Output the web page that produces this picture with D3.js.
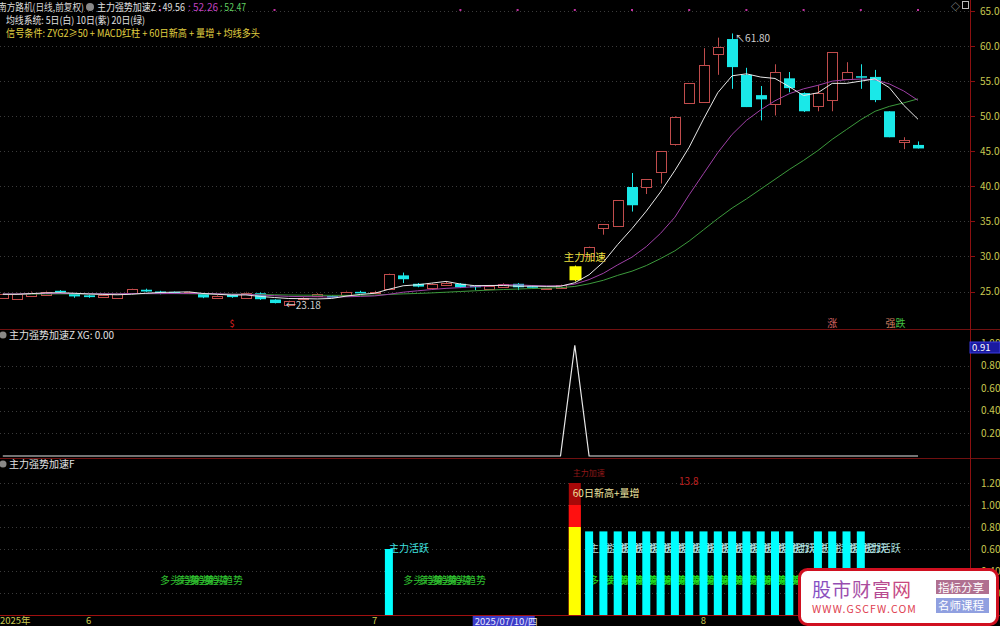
<!DOCTYPE html>
<html><head><meta charset="utf-8">
<script src="https://cdn.jsdelivr.net/npm/d3@7"></script>
<style>
html,body{margin:0;padding:0;background:#000;overflow:hidden;}
svg{display:block;}
text{font-family:"Noto Sans CJK SC","Noto Sans",sans-serif;}
</style></head><body>
<svg id="c" width="1000" height="626"></svg>
<script>
// ---------------- DATA ----------------
const open  = [24.2,24.0,24.45,24.6,25.1,24.75,24.45,24.3,24.2,24.7,25.25,25.0,24.95,24.75,24.75,24.15,24.55,24.15,24.75,23.85,23.2,23.9,24.4,24.35,24.6,24.95,24.85,25.3,27.3,26.1,25.6,25.85,26.1,25.85,25.45,25.7,26.1,25.75,25.35,25.5,26.6,30.0,34.0,34.4,39.9,39.9,42.0,46.1,51.9,52.0,58.9,61.0,55.9,53.0,51.7,55.4,53.3,51.4,52.3,55.3,55.7,55.6,50.7,46.3,45.9];
const high  = [24.8,24.8,25.0,25.1,25.2,24.8,24.5,24.6,24.8,25.4,25.4,25.1,25.0,25.0,24.8,24.5,24.6,24.95,24.85,23.9,23.75,24.2,24.75,24.45,25.1,25.1,25.1,27.55,27.7,26.2,26.2,26.4,26.2,25.9,25.9,26.2,26.2,25.8,25.5,26.0,28.7,31.4,34.6,38.1,41.9,41.0,45.0,50.0,54.7,59.7,61.2,61.8,56.9,54.3,57.4,56.3,53.4,54.4,59.1,57.7,57.4,56.6,50.7,47.0,46.4];
const low   = [24.1,23.9,24.4,24.5,24.85,24.1,24.1,24.2,24.1,24.6,24.95,24.6,24.7,24.7,24.05,24.1,24.1,24.1,23.8,23.3,23.18,23.75,24.35,24.2,24.5,24.8,24.7,25.2,26.2,25.6,25.5,25.8,25.5,25.2,25.4,25.6,25.2,25.6,25.3,25.4,26.45,29.9,33.1,34.4,36.4,38.9,40.4,45.8,51.9,52.0,55.9,53.9,51.3,49.4,50.1,53.4,50.6,50.7,50.7,55.3,53.9,52.0,47.0,45.3,45.4];
const close = [24.7,24.7,24.85,25.0,24.9,24.3,24.2,24.55,24.7,25.3,25.0,24.75,24.75,24.95,24.15,24.4,24.2,24.85,23.9,23.35,23.7,24.1,24.65,24.25,25.0,24.9,24.95,27.5,26.75,25.7,26.1,26.15,25.6,25.6,25.85,26.1,25.6,25.65,25.45,25.95,28.6,31.3,34.6,38.1,37.3,41.0,45.0,49.9,54.7,57.3,59.9,57.0,51.3,52.4,56.3,54.0,50.7,53.3,59.1,56.3,55.6,52.3,47.0,46.6,45.4];
const ma5  = [24.6,24.6,24.7,24.8,24.83,24.75,24.65,24.59,24.53,24.61,24.75,24.86,24.9,24.95,24.72,24.6,24.49,24.51,24.3,24.14,24.0,23.98,23.94,24.01,24.34,24.58,24.75,25.32,25.82,25.96,26.2,26.44,26.06,25.83,25.86,25.86,25.75,25.76,25.73,25.75,26.25,27.39,29.2,31.7,33.98,36.46,39.2,42.26,45.58,49.58,53.36,55.76,56.04,55.58,55.38,54.2,52.94,53.34,54.68,54.68,55.0,55.32,54.06,51.56,49.56];
const ma10 = [24.65,24.65,24.7,24.72,24.74,24.7,24.68,24.68,24.66,24.72,24.7,24.7,24.72,24.72,24.7,24.68,24.6,24.6,24.5,24.4,24.3,24.27,24.25,24.2,24.25,24.3,24.37,24.6,24.9,25.1,25.28,25.45,25.55,25.7,25.8,25.95,25.95,25.85,25.8,25.8,26.05,26.7,27.6,28.8,29.9,31.4,33.3,35.6,38.8,41.8,44.8,47.4,49.4,50.9,52.2,53.2,53.9,54.4,55.0,55.2,55.3,55.2,54.6,53.6,52.26];
const ma20 = [24.6,24.62,24.63,24.65,24.66,24.66,24.65,24.65,24.66,24.68,24.7,24.7,24.7,24.68,24.66,24.64,24.62,24.6,24.57,24.53,24.5,24.48,24.47,24.45,24.45,24.46,24.48,24.58,24.66,24.72,24.8,24.9,25.0,25.1,25.2,25.28,25.35,25.42,25.48,25.55,25.72,26.1,26.6,27.3,27.9,28.7,29.7,30.8,32.2,33.8,35.4,36.9,38.2,39.6,41.0,42.4,43.7,45.1,46.7,48.1,49.5,50.7,51.4,51.9,52.47];
const signalIdx = [40];                 // 主力加速 candle
const xgValues = [0,0,0,0,0,0,0,0,0,0,0,0,0,0,0,0,0,0,0,0,0,0,0,0,0,0,0,0,0,0,0,0,0,0,0,0,0,0,0,0,0.98,0,0,0,0,0,0,0,0,0,0,0,0,0,0,0,0,0,0,0,0,0,0,0,0];
const xgAxisLabel = 0.91;
const activeIdx = [27,41,42,43,44,45,46,47,48,49,50,51,52,53,54,55,57,58,59,60];
const activeVal = [0.6,0.76,0.76,0.76,0.76,0.76,0.76,0.76,0.76,0.76,0.76,0.76,0.76,0.76,0.76,0.76,0.76,0.76,0.76,0.76];
const trendIdx = [11,12,13,14,28,29,30,31,41,42,43,44,45,46,47,48,49,50,51,52,53,54,55];
const signalBarLevels = [1.2,1.0,0.8];
const signalBarColors = ["#a80808","#ff1010","#ffff00"];
const priceTicks = [25,30,35,40,45,50,55,60,65];
const xgTicks = [0.2,0.4,0.6,0.8,1.0];
const fTicks = [0.2,0.4,0.6,0.8,1.0,1.2];
const monthLabels = ["2025年","6","7","8"];
const monthIdx = [0,6,26,49];
const topDots = [11,19,32,36,40,44,48,52,56,60,64];

// ---------------- SCALES ----------------
const svg = d3.select("#c");
svg.append("rect").attr("width",1000).attr("height",626).attr("fill","#000");
const x  = d3.scaleLinear().domain([0,64]).range([2.8,918]);
const yP = d3.scaleLinear().domain([25,65]).range([291.5,11]);
const yX = d3.scaleLinear().domain([0,1]).range([456,343]);
const yF = d3.scaleLinear().domain([0,1.2]).range([615,483]);

// ---------------- GRID ----------------
const grid = svg.append("g").attr("stroke","#3a3a3a").attr("stroke-dasharray","1,3");
grid.append("g").selectAll("line").data(priceTicks).join("line").attr("x1",0).attr("x2",970).attr("y1",d=>Math.round(yP(d))+0.5).attr("y2",d=>Math.round(yP(d))+0.5);
grid.append("g").selectAll("line").data(xgTicks.slice(0,4)).join("line").attr("x1",0).attr("x2",970).attr("y1",d=>Math.round(yX(d))+0.5).attr("y2",d=>Math.round(yX(d))+0.5);
grid.append("g").selectAll("line").data(fTicks).join("line").attr("x1",0).attr("x2",970).attr("y1",d=>Math.round(yF(d))+0.5).attr("y2",d=>Math.round(yF(d))+0.5);

// separators
svg.append("line").attr("x1",0).attr("x2",1000).attr("y1",329.5).attr("y2",329.5).attr("stroke","#701010");
svg.append("line").attr("x1",0).attr("x2",1000).attr("y1",458.5).attr("y2",458.5).attr("stroke","#701010");
svg.append("line").attr("x1",0).attr("x2",1000).attr("y1",615.5).attr("y2",615.5).attr("stroke","#a01010");
svg.append("line").attr("x1",970.5).attr("x2",970.5).attr("y1",0).attr("y2",626).attr("stroke","#8b1010");

// ---------------- CANDLES ----------------
const cw = 10;
const candles = d3.range(open.length).map(i=>({i,o:open[i],h:high[i],l:low[i],c:close[i],sig:signalIdx.includes(i)}));
const gC = svg.append("g");
candles.forEach(d=>{
  const cx = Math.round(x(d.i))+0.5;
  const top = yP(Math.max(d.o,d.c)), bot = yP(Math.min(d.o,d.c));
  if (d.sig) {
    gC.append("line").attr("x1",cx).attr("x2",cx).attr("y1",yP(d.h)).attr("y2",yP(d.l)).attr("stroke","#ffff00");
    gC.append("rect").attr("x",cx-6).attr("y",top).attr("width",12).attr("height",Math.max(1,bot-top)).attr("fill","#ffff00");
  } else if (d.c > d.o) {
    const col = "#c04c4c";
    gC.append("line").attr("x1",cx).attr("x2",cx).attr("y1",yP(d.h)).attr("y2",top).attr("stroke",col);
    gC.append("line").attr("x1",cx).attr("x2",cx).attr("y1",bot).attr("y2",yP(d.l)).attr("stroke",col);
    gC.append("rect").attr("x",cx-cw/2).attr("y",Math.round(top)+0.5).attr("width",cw).attr("height",Math.max(1,Math.round(bot-top))).attr("fill","#000").attr("stroke",col);
  } else {
    const col = "#1ae8e8";
    gC.append("line").attr("x1",cx).attr("x2",cx).attr("y1",yP(d.h)).attr("y2",yP(d.l)).attr("stroke",col);
    gC.append("rect").attr("x",cx-cw/2-0.5).attr("y",top).attr("width",cw+1).attr("height",Math.max(1.5,bot-top)).attr("fill",col);
  }
});

// MA lines
const line = d3.line().x((d,i)=>x(i)).y(d=>yP(d));
svg.append("path").datum(ma20).attr("d",line).attr("fill","none").attr("stroke","#3c9a3c").attr("stroke-width",1);
svg.append("path").datum(ma10).attr("d",line).attr("fill","none").attr("stroke","#a040a8").attr("stroke-width",1);
svg.append("path").datum(ma5).attr("d",line).attr("fill","none").attr("stroke","#e8e8e8").attr("stroke-width",1);

// annotations main
svg.append("text").attr("x",x(40)+10).attr("y",261).attr("text-anchor","middle").attr("font-size",10.5).attr("fill","#f0e040").text("主力加速");
svg.append("text").attr("x",x(51)+3).attr("y",42).attr("font-size",10).attr("fill","#d0d0d0").attr("font-family","Liberation Sans").text("↖61.80");
svg.append("text").attr("x",x(20)-3).attr("y",309).attr("font-size",10).attr("fill","#d0d0d0").attr("font-family","Liberation Sans").text("←23.18");
svg.append("text").attr("x",x(16)-2).attr("y",327).attr("font-size",9).attr("fill","#e02020").attr("font-family","Liberation Sans").text("$");
svg.append("text").attr("x",x(58)).attr("y",327).attr("text-anchor","middle").attr("font-size",10).attr("fill","#d06060").text("涨");
svg.append("text").attr("x",x(62)-4).attr("y",327).attr("font-size",10).attr("fill","#d08060").text("强");
svg.append("text").attr("x",x(62)+6).attr("y",327).attr("font-size",10).attr("fill","#40c040").text("跌");
svg.append("g").selectAll("rect").data(topDots).join("rect").attr("x",d=>x(d)-1).attr("y",9).attr("width",2).attr("height",2).attr("fill","#c030a0");

// header texts (fitted to reference widths)
const hdr = svg.append("g").attr("font-size",10);
const hdrItems = [
  {t:"南方路机(日线,前复权)", x:-2, y:11, w:86, c:"#d8d8d8"},
  {t:"主力强势加速Z : 49.56", x:97, y:11, w:88, c:"#e0e0e0"},
  {t:": 52.26", x:188, y:11, w:30, c:"#c040c0"},
  {t:": 52.47", x:220, y:11, w:26, c:"#60d060"},
  {t:"均线系统: 5日(白) 10日(紫) 20日(绿)", x:6, y:24, w:139, c:"#e0e0e0"},
  {t:"信号条件: ZYG2≥50 + MACD红柱 + 60日新高 + 量增 + 均线多头", x:6, y:37, w:254, c:"#e0d040"}
];
hdr.selectAll("text").data(hdrItems).join("text").attr("x",d=>d.x).attr("y",d=>d.y).attr("fill",d=>d.c)
  .attr("textLength",d=>d.w).attr("lengthAdjust","spacingAndGlyphs").text(d=>d.t);
hdr.append("circle").attr("cx",90).attr("cy",7).attr("r",4).attr("fill","#888");
svg.append("text").attr("x",951).attr("y",10).attr("font-size",9).attr("fill","#bbb").text("◇");
svg.append("rect").attr("x",962.5).attr("y",1.5).attr("width",6).attr("height",7).attr("fill","none").attr("stroke","#bbb");

// right axis price
const axisCol = "#c8c850";
const rax = svg.append("g").attr("font-family","Liberation Sans").attr("font-size",10).attr("fill",axisCol);
rax.selectAll("text").data(priceTicks).join("text").attr("x",980).attr("y",d=>yP(d)+3.5).text(d=>d.toFixed(2));
rax.append("g").selectAll("line").data(priceTicks).join("line").attr("x1",971).attr("x2",975).attr("y1",d=>Math.round(yP(d))+0.5).attr("y2",d=>Math.round(yP(d))+0.5).attr("stroke","#8b1010");

// ---------------- PANEL 2 ----------------
svg.append("circle").attr("cx",3).attr("cy",335).attr("r",3.5).attr("fill","#888");
svg.append("text").attr("x",9).attr("y",339).attr("font-size",10).attr("fill","#e0e0e0").text("主力强势加速Z  XG: 0.00");
svg.append("path").datum(xgValues).attr("d",d3.line().x((d,i)=>x(i)).y(d=>yX(d))).attr("fill","none").attr("stroke","#e8e8e8").attr("stroke-width",1.2);
const rax2 = svg.append("g").attr("font-family","Liberation Sans").attr("font-size",10).attr("fill",axisCol);
rax2.selectAll("text").data(xgTicks).join("text").attr("x",981).attr("y",d=>yX(d)+3.5).text(d=>d.toFixed(2));
svg.append("rect").attr("x",970).attr("y",342).attr("width",30).attr("height",11).attr("fill","#1a1aa0").attr("stroke","#3a3ae0");
svg.append("text").attr("x",972).attr("y",351).attr("font-family","Liberation Sans").attr("font-size",9.5).attr("fill","#fff").text(xgAxisLabel.toFixed(2));

// ---------------- PANEL 3 ----------------
svg.append("circle").attr("cx",3).attr("cy",464).attr("r",3.5).attr("fill","#888");
svg.append("text").attr("x",9).attr("y",468).attr("font-size",10).attr("fill","#e0e0e0").text("主力强势加速F");
const rax3 = svg.append("g").attr("font-family","Liberation Sans").attr("font-size",10).attr("fill",axisCol);
rax3.selectAll("text").data(fTicks).join("text").attr("x",981).attr("y",d=>yF(d)+3.5).text(d=>d.toFixed(2));

// labels (behind bars, overlapping as in the original indicator)
svg.append("g").selectAll("text").data(trendIdx).join("text").attr("x",d=>x(d)).attr("y",584).attr("font-size",10).attr("fill",d=>d>40?"#20e020":"#30c030").text("多头趋势");
svg.append("g").selectAll("text").data(activeIdx).join("text").attr("x",d=>x(d)).attr("y",552).attr("font-size",10).attr("fill",(d,i)=>i===0?"#40e0e0":"#b0e0e0").text("主力活跃");

// bars
svg.append("g").selectAll("rect").data(activeIdx).join("rect")
  .attr("x",d=>x(d)-4).attr("width",8)
  .attr("y",(d,i)=>yF(activeVal[i])).attr("height",(d,i)=>yF(0)-yF(activeVal[i])).attr("fill","#00ffff");
svg.append("g").selectAll("rect").data(signalBarLevels).join("rect")
  .attr("x",x(40)-6).attr("width",12)
  .attr("y",d=>yF(d)).attr("height",d=>yF(0)-yF(d)).attr("fill",(d,i)=>signalBarColors[i]);
svg.append("text").attr("x",x(40)-2).attr("y",476).attr("font-size",8).attr("fill","#901818").text("主力加速");
svg.append("text").attr("x",x(40)-2).attr("y",497).attr("font-size",10).attr("fill","#f0e6a0").text("60日新高+量增");
svg.append("text").attr("x",679).attr("y",485).attr("font-family","Liberation Sans").attr("font-size",10).attr("fill","#c02020").text("13.8");

// bottom date axis
const bax = svg.append("g").attr("font-family","Liberation Sans").attr("font-size",9.5).attr("fill",axisCol);
bax.selectAll("text").data(monthIdx).join("text").attr("x",(d,i)=>i===0?0:x(d)).attr("y",624).attr("text-anchor",(d,i)=>i===0?"start":"middle").text((d,i)=>monthLabels[i]);
svg.append("rect").attr("x",x(33)-2).attr("y",616).attr("width",62).attr("height",10).attr("fill","#3c3cc8");
svg.append("text").attr("x",x(33)).attr("y",624.5).attr("font-size",9.5).attr("fill","#e8e8ff").text("2025/07/10/四");

// ---------------- WATERMARK ----------------
const defs = svg.append("defs");
const lg = defs.append("linearGradient").attr("id","wmg").attr("x1","0").attr("x2","1");
lg.append("stop").attr("offset","0").attr("stop-color","#8050c8");
lg.append("stop").attr("offset","1").attr("stop-color","#d04878");
const wm = svg.append("g");
wm.append("rect").attr("x",799.5).attr("y",569.5).attr("width",198).attr("height",55).attr("rx",8).attr("fill","#fff").attr("stroke","#d01020").attr("stroke-width",3);
wm.append("text").attr("x",812).attr("y",597).attr("font-size",19).attr("fill","url(#wmg)").attr("letter-spacing",1).text("股市财富网");
wm.append("text").attr("x",812).attr("y",613).attr("font-size",10.5).attr("font-family","Liberation Serif").attr("fill","#e04050").attr("letter-spacing",1.1).text("WWW.GSCFW.COM");
wm.append("rect").attr("x",936).attr("y",580).attr("width",53).attr("height",14).attr("fill","#b07090");
wm.append("text").attr("x",938).attr("y",591.5).attr("font-size",11.5).attr("fill","#fff").text("指标分享");
wm.append("rect").attr("x",936).attr("y",598).attr("width",53).attr("height",15).attr("fill","#90a0e0");
wm.append("text").attr("x",938).attr("y",610).attr("font-size",11.5).attr("fill","#fff").text("名师课程");
</script>
</body></html>
